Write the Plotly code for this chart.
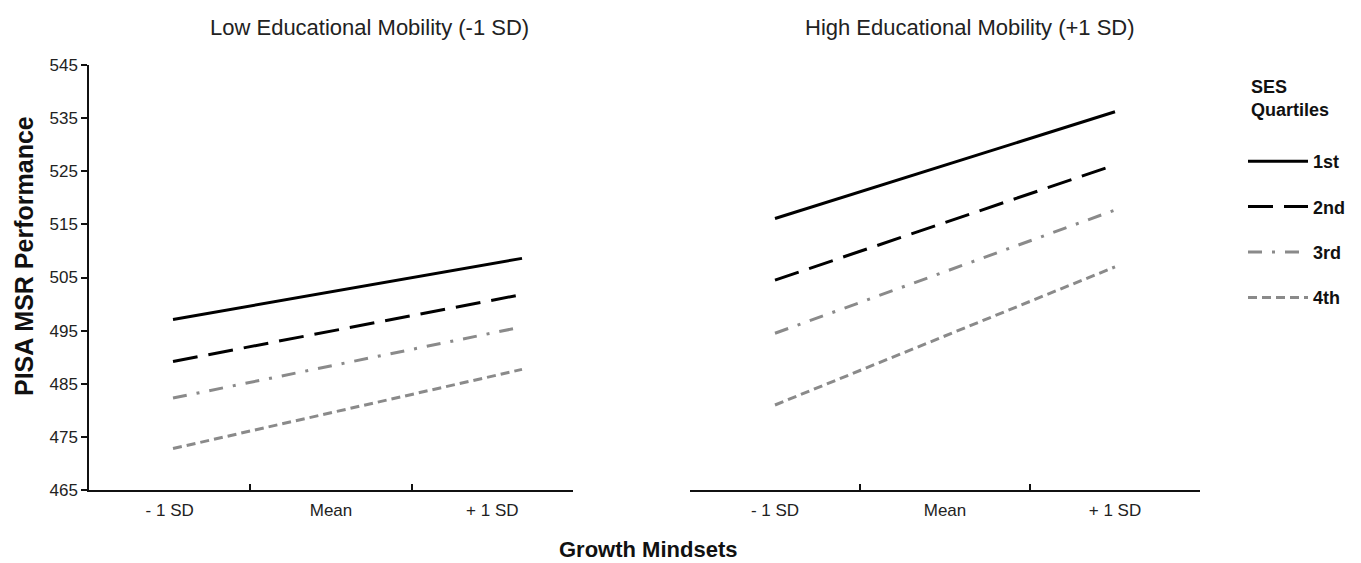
import plotly.graph_objects as go

# page body has an 8px margin; the figure is sized/positioned to compensate
OFF = 8
W, H = 1361 - 2 * OFF, 563 - OFF

categories = ["- 1 SD", "Mean", "+ 1 SD"]
quartiles = ["1st", "2nd", "3rd", "4th"]

# PISA MSR performance, Low Educational Mobility (-1 SD)
low_1st = [497.1, 502.9, 508.6]
low_2nd = [489.2, 495.5, 501.8]
low_3rd = [482.3, 489.0, 495.7]
low_4th = [472.8, 480.3, 487.7]

# PISA MSR performance, High Educational Mobility (+1 SD)
high_1st = [516.1, 526.2, 536.2]
high_2nd = [504.5, 515.4, 526.2]
high_3rd = [494.5, 506.1, 517.7]
high_4th = [481.0, 494.0, 507.0]

y_ticks = [465, 475, 485, 495, 505, 515, 525, 535, 545]

low_series = [low_1st, low_2nd, low_3rd, low_4th]
high_series = [high_1st, high_2nd, high_3rd, high_4th]

colors = ["#000000", "#000000", "#8a8a8a", "#8a8a8a"]
dashes = ["solid", "25px,11px", "14px,10px,3px,10px", "9px,5px"]

FONT = "Arial, Liberation Sans, sans-serif"


def px_x(p):
    return (p - OFF) / W


def px_y(p):
    return 1 - (p - OFF) / H


fig = go.Figure()
# left panel lines drawn on a hidden positional axis overlaying the category axis
for i, q in enumerate(quartiles):
    fig.add_trace(go.Scatter(
        x=list(range(len(categories))), y=low_series[i], mode="lines", name=q,
        line=dict(color=colors[i], width=3, dash=dashes[i]),
        xaxis="x3", yaxis="y", legendgroup=q, showlegend=True,
        text=categories, hovertemplate="%{text}: %{y}<extra>" + q + "</extra>"))
for i, q in enumerate(quartiles):
    fig.add_trace(go.Scatter(
        x=categories, y=high_series[i], mode="lines", name=q,
        line=dict(color=colors[i], width=3, dash=dashes[i]),
        xaxis="x2", yaxis="y2", legendgroup=q, showlegend=False))
# invisible trace to register category axis x
fig.add_trace(go.Scatter(x=categories, y=[None] * 3, mode="lines",
                         xaxis="x", yaxis="y", showlegend=False,
                         hoverinfo="skip"))

xcommon = dict(
    type="category", categoryorder="array", categoryarray=categories,
    range=[-0.5, 2.5], showline=True, linecolor="#111", linewidth=1.5,
    ticks="inside", tickson="boundaries", ticklen=6, tickcolor="#111",
    tickwidth=1.5, showgrid=False, zeroline=False, ticklabelstandoff=4,
    tickfont=dict(family=FONT, size=17, color="#222"), fixedrange=True,
)

# hidden axis for left-panel lines (start at x=173px, end at x=522px)
left_start, left_end = 173, 522
ax_l, ax_r = 89, 573
unit = (left_end - left_start) / 2
x3_range = [-(left_start - ax_l) / unit, 2 + (ax_r - left_end) / unit]

fig.update_layout(
    width=W, height=H,
    margin=dict(l=0, r=0, t=0, b=0, autoexpand=False),
    paper_bgcolor="white", plot_bgcolor="white",
    font=dict(family=FONT, color="#222"),
    xaxis=dict(domain=[px_x(ax_l), px_x(ax_r)], anchor="y", **xcommon),
    xaxis3=dict(domain=[px_x(ax_l), px_x(ax_r)], anchor="y", overlaying="x",
                range=x3_range, visible=False),
    xaxis2=dict(domain=[px_x(690), px_x(1200)], anchor="y2", **xcommon),
    yaxis=dict(domain=[px_y(490), px_y(65)], range=[465, 545],
               tickvals=y_ticks, ticks="outside", ticklen=6,
               tickcolor="#111", tickwidth=1.5, showline=True,
               linecolor="#111", linewidth=1.5, showgrid=False,
               zeroline=False, anchor="x",
               tickfont=dict(family=FONT, size=17, color="#222")),
    yaxis2=dict(domain=[px_y(490), px_y(65)], range=[465, 545],
                visible=False, anchor="x2"),
    showlegend=True,
    legend=dict(x=px_x(1243), y=px_y(143), xanchor="left", yanchor="top",
                font=dict(family=FONT, size=18, color="#111", weight="bold"),
                tracegroupgap=19, itemwidth=60,
                bgcolor="rgba(0,0,0,0)"),
    annotations=[
        dict(text="Low Educational Mobility (-1 SD)", x=px_x(369), y=px_y(28),
             xref="paper", yref="paper", showarrow=False,
             xanchor="center", yanchor="middle",
             font=dict(family=FONT, size=22, color="#222")),
        dict(text="High Educational Mobility (+1 SD)", x=px_x(970), y=px_y(28),
             xref="paper", yref="paper", showarrow=False,
             xanchor="center", yanchor="middle",
             font=dict(family=FONT, size=22, color="#222")),
        dict(text="<b>PISA MSR Performance</b>", x=px_x(24), y=px_y(256),
             xref="paper", yref="paper", showarrow=False, textangle=-90,
             xanchor="center", yanchor="middle",
             font=dict(family=FONT, size=25, color="#111")),
        dict(text="<b>Growth Mindsets</b>", x=px_x(648), y=px_y(549),
             xref="paper", yref="paper", showarrow=False,
             xanchor="center", yanchor="middle",
             font=dict(family=FONT, size=22, color="#111")),
        dict(text="<b>SES<br>Quartiles</b>", x=px_x(1249), y=px_y(98),
             xref="paper", yref="paper", showarrow=False, xanchor="left",
             yanchor="middle", align="left",
             font=dict(family=FONT, size=18, color="#111")),
    ],
)

fig.write_html("out.html")
